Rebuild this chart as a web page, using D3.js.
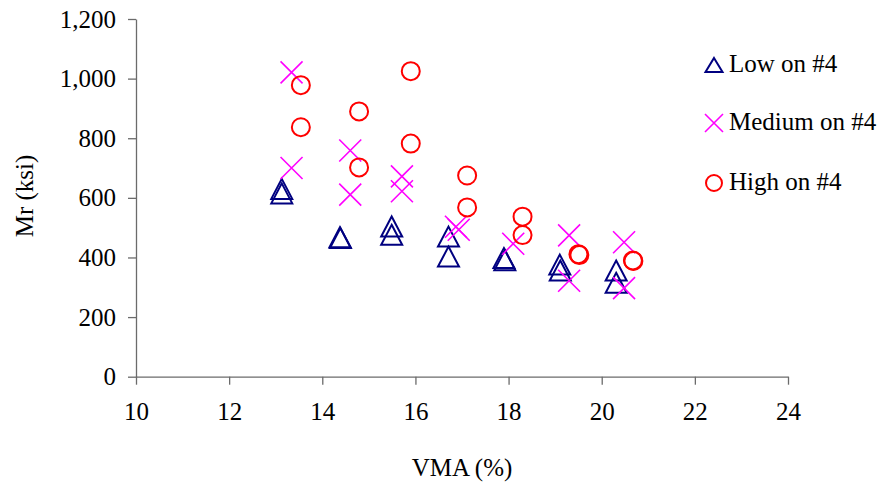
<!DOCTYPE html>
<html>
<head>
<meta charset="utf-8">
<script src="https://cdn.jsdelivr.net/npm/d3@7"></script>
<style>
  html, body { margin: 0; padding: 0; background: #fff; }
  svg { display: block; }
  svg text { font-family: "Liberation Serif", "Times New Roman", serif !important; fill: #000; }
</style>
</head>
<body>
<svg id="chart" width="888" height="489" font-family="Liberation Serif, serif"></svg>
<script>
// ---- data ----
const seriesNames = ["Low on #4", "Medium on #4", "High on #4"];
const lowX = [13.13, 13.13, 14.38, 14.39, 15.49, 15.49, 16.71, 16.71, 17.90, 17.92, 19.10, 19.11, 20.31, 20.31];
const lowY = [630, 615, 468, 465, 504, 476, 470, 403, 398, 391, 376, 356, 356, 315];
const medX = [13.34, 13.34, 14.60, 14.60, 15.71, 15.71, 16.87, 16.93, 18.10, 19.30, 19.30, 20.48, 20.48];
const medY = [1021, 700, 759, 611, 672, 622, 503, 493, 446, 474, 322, 451, 297];
const highX = [13.54, 13.54, 14.79, 14.79, 15.90, 15.90, 17.11, 17.11, 18.30, 18.30, 19.50, 19.52, 20.67, 20.68];
const highY = [978, 837, 890, 702, 1025, 782, 675, 568, 537, 475, 411, 408, 390, 388];
const xTicks = [10, 12, 14, 16, 18, 20, 22, 24];
const yTicks = [0, 200, 400, 600, 800, 1000, 1200];
const xTitle = "VMA (%)";
const yTitle = "Mr (ksi)";

// ---- layout ----
const svg = d3.select("#chart");
const pLeft = 136, pRight = 788, pTop = 19, pBottom = 376.7;
const x = d3.scaleLinear().domain([10, 24]).range([pLeft, pRight]);
const y = d3.scaleLinear().domain([0, 1200]).range([pBottom, pTop]);
const axisColor = "#6b6b6b";
const fmt = d3.format(",");
const serif = '"Liberation Serif", "Times New Roman", serif';

// axes
const xAxis = svg.append("g").attr("transform", `translate(0,${pBottom})`)
  .call(d3.axisBottom(x).tickValues(xTicks).tickSize(8).tickPadding(18).tickSizeOuter(0).tickFormat(d => d));
const yAxis = svg.append("g").attr("transform", `translate(${pLeft},0)`)
  .call(d3.axisLeft(y).tickValues(yTicks).tickSize(8).tickPadding(12).tickSizeOuter(0).tickFormat(fmt));
[xAxis, yAxis].forEach(g => {
  g.attr("font-family", serif).attr("font-size", 25);
  g.select(".domain").attr("stroke", axisColor).attr("stroke-width", 1.3);
  g.selectAll(".tick line").attr("stroke", axisColor).attr("stroke-width", 1.3);
  g.selectAll(".tick text").style("font-family", serif).style("font-size", "25px").attr("fill", "#000");
});
xAxis.selectAll(".tick text").attr("dy", "0.71em");

// titles
svg.append("text").attr("x", 462).attr("y", 476).attr("text-anchor", "middle")
  .style("font-family", serif).style("font-size", "25px").text(xTitle);
svg.append("text").attr("transform", "translate(33,196) rotate(-90)").attr("text-anchor", "middle")
  .style("font-family", serif).style("font-size", "25px").text(yTitle);

// marker makers
function triPath(w, h) {
  return `M0,${-h/2}L${w/2},${h/2}L${-w/2},${h/2}Z`;
}
function crossPath(s) {
  return `M${-s},${-s}L${s},${s}M${-s},${s}L${s},${-s}`;
}
const navy = "#000080", magenta = "#ff00ff", red = "#ff0000";

const plot = svg.append("g");
plot.selectAll("path.low").data(lowX.map((d, i) => [d, lowY[i]])).join("path")
  .attr("class", "low")
  .attr("transform", d => `translate(${x(d[0])},${y(d[1])})`)
  .attr("d", triPath(21, 20)).attr("fill", "none").attr("stroke", navy).attr("stroke-width", 2);

plot.selectAll("path.med").data(medX.map((d, i) => [d, medY[i]])).join("path")
  .attr("class", "med")
  .attr("transform", d => `translate(${x(d[0])},${y(d[1])})`)
  .attr("d", crossPath(11)).attr("fill", "none").attr("stroke", magenta).attr("stroke-width", 1.6);

plot.selectAll("circle.high").data(highX.map((d, i) => [d, highY[i]])).join("circle")
  .attr("class", "high")
  .attr("cx", d => x(d[0])).attr("cy", d => y(d[1])).attr("r", 9)
  .attr("fill", "none").attr("stroke", red).attr("stroke-width", 2);

// legend
const legY = [65, 123, 183];
const leg = svg.append("g");
leg.append("path").attr("transform", `translate(714,${legY[0]})`).attr("d", triPath(17, 14))
  .attr("fill", "none").attr("stroke", navy).attr("stroke-width", 2);
leg.append("path").attr("transform", `translate(714,${legY[1]})`).attr("d", crossPath(9))
  .attr("fill", "none").attr("stroke", magenta).attr("stroke-width", 1.6);
leg.append("circle").attr("cx", 714).attr("cy", legY[2]).attr("r", 8)
  .attr("fill", "none").attr("stroke", red).attr("stroke-width", 2);
seriesNames.forEach((n, i) => {
  leg.append("text").attr("x", 729).attr("y", legY[i] + 7)
    .style("font-family", serif).style("font-size", "25px").text(n);
});
</script>
</body>
</html>
